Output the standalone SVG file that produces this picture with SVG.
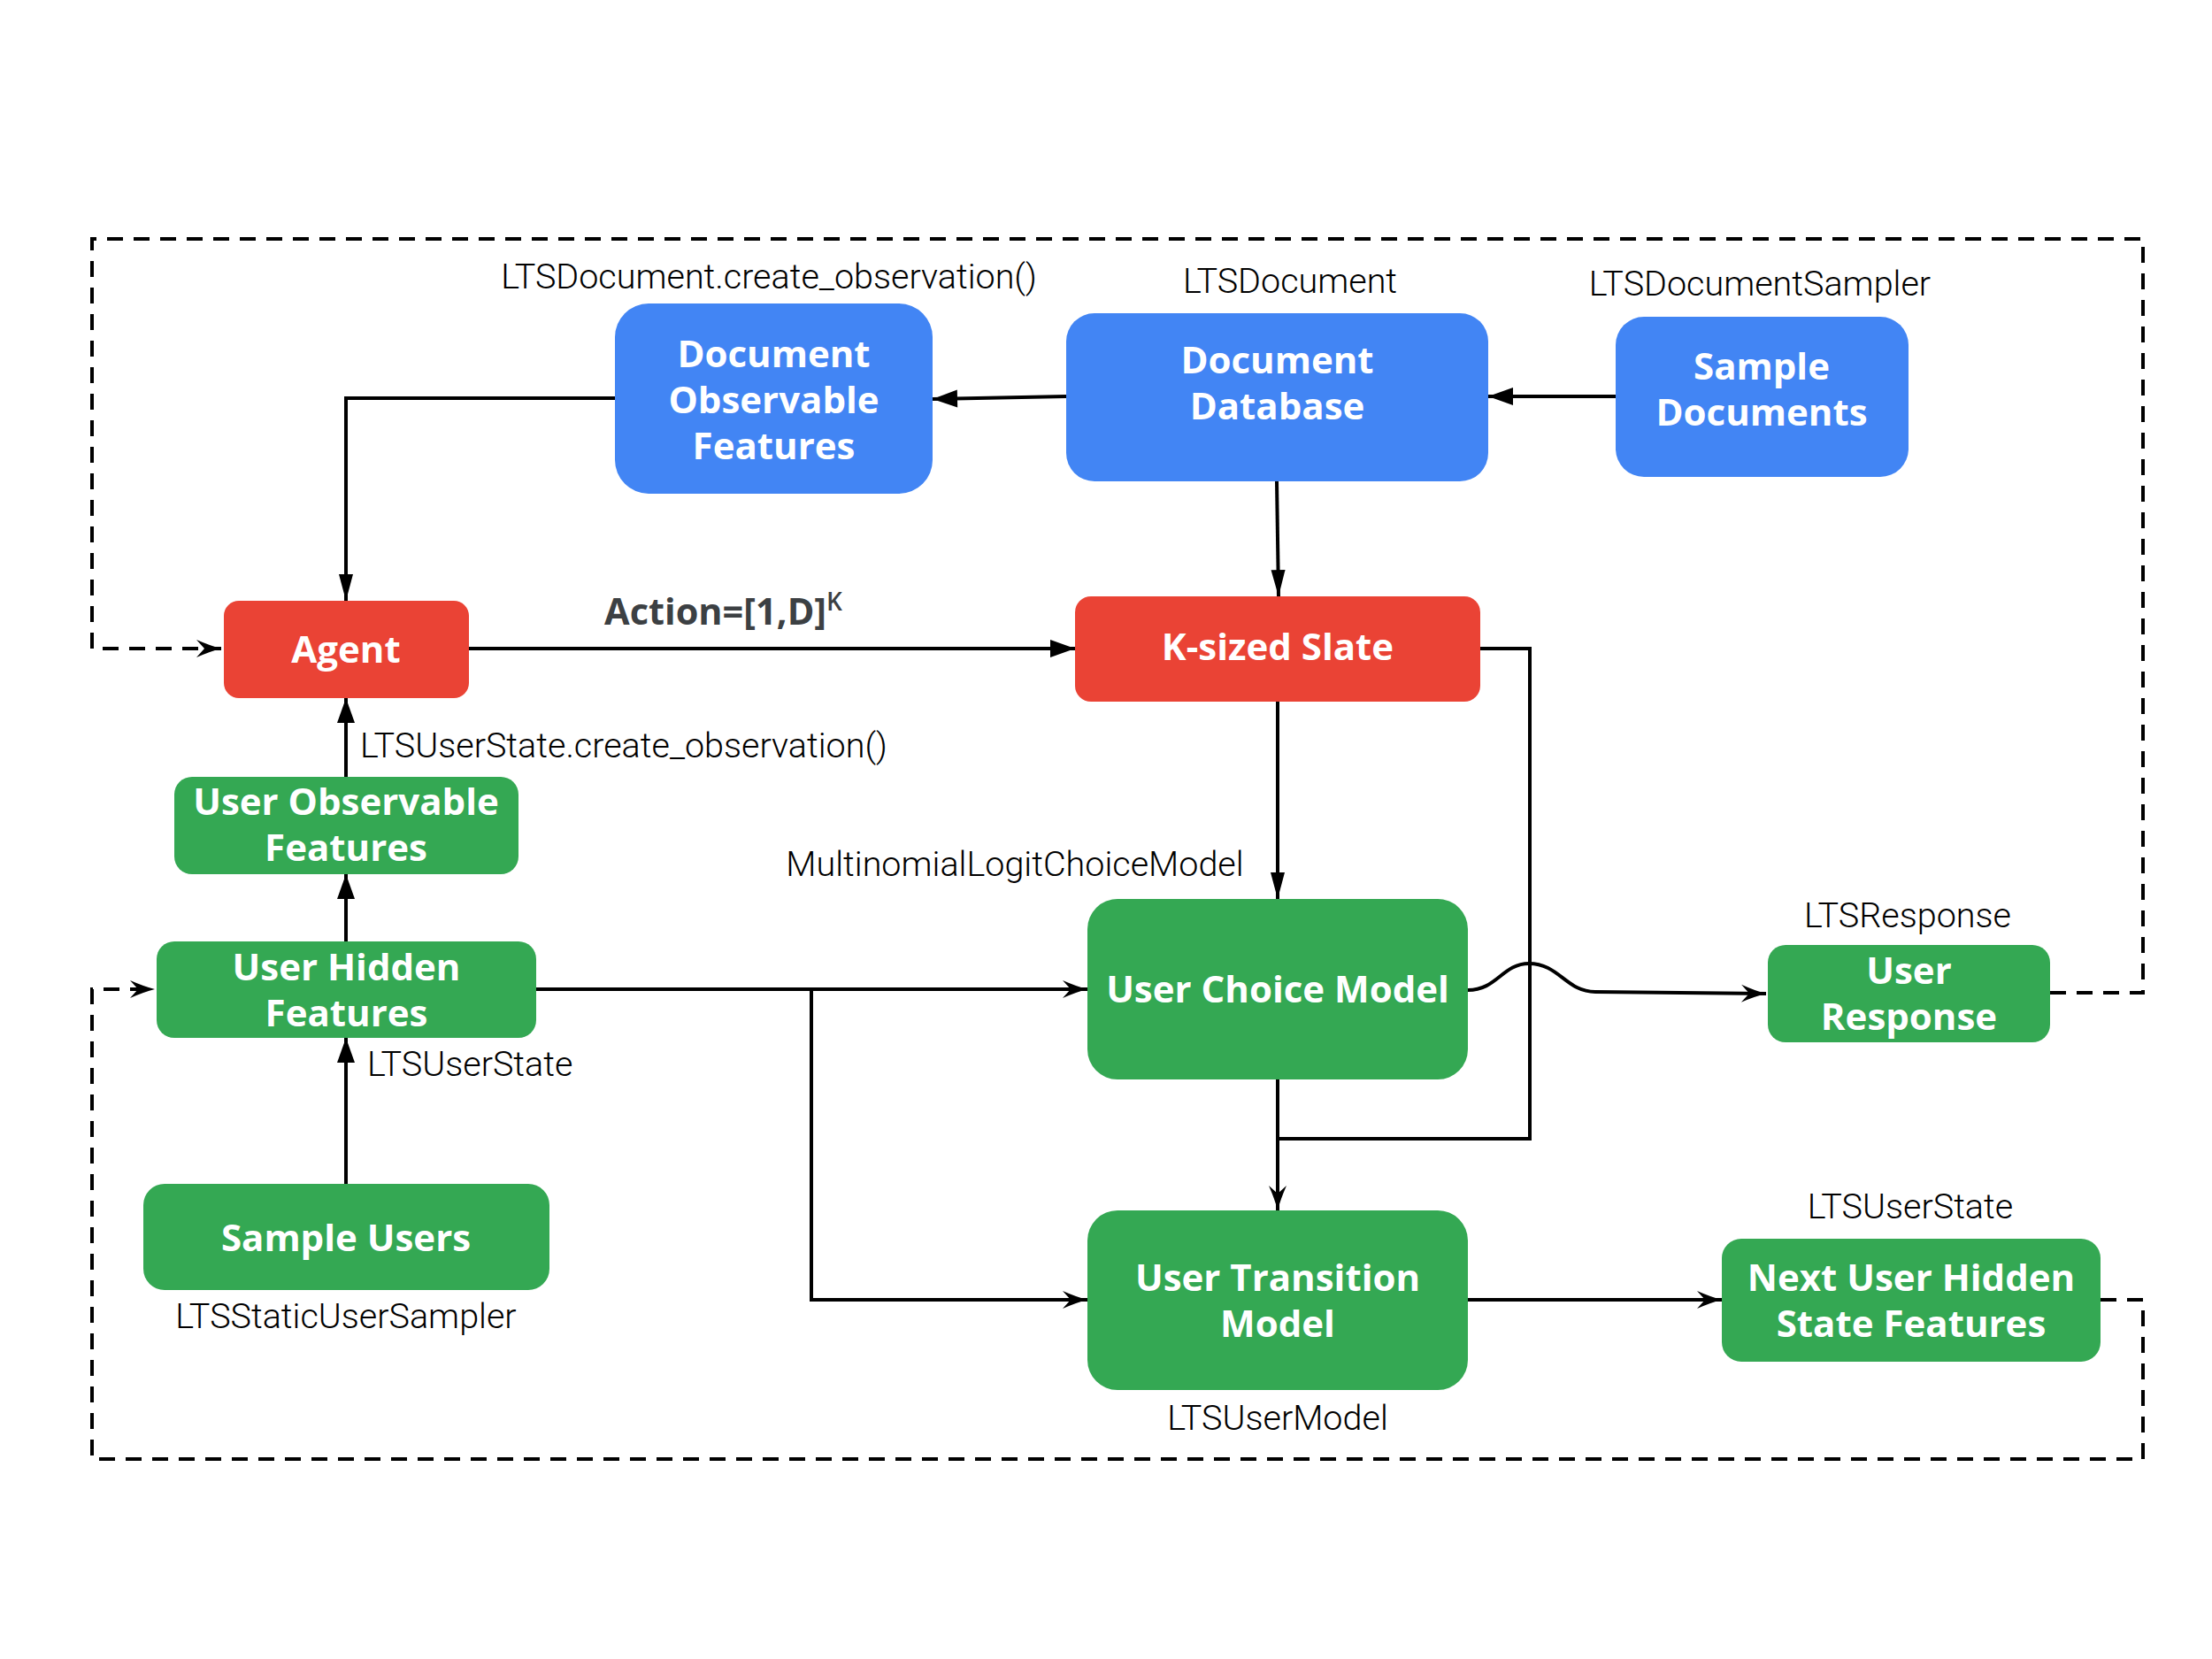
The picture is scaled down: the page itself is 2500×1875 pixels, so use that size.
<svg xmlns="http://www.w3.org/2000/svg" width="2500" height="1875" viewBox="0 0 2500 1875">
<style>
.blue{fill:#4285F4}
.red{fill:#EA4335}
.green{fill:#34A853}
.nt{font-family:"Open Sans","Liberation Sans",sans-serif;font-weight:700;font-size:42px;fill:#fff;text-anchor:middle}
.an{font-family:Roboto,"Liberation Sans",sans-serif;font-weight:300;font-size:39.5px;fill:#000}
.mid{text-anchor:middle}
.ln{fill:none;stroke:#000;stroke-width:4}
.dash{fill:none;stroke:#000;stroke-width:4;stroke-dasharray:18 12}
</style>
<defs>
<marker id="tri" markerUnits="userSpaceOnUse" markerWidth="28" markerHeight="20" refX="28" refY="10" orient="auto" overflow="visible">
<path d="M0,0 L28,10 L0,20 z" fill="#000"/>
</marker>
<marker id="nar" markerUnits="userSpaceOnUse" markerWidth="30" markerHeight="16" refX="30" refY="8" orient="auto" overflow="visible">
<path d="M0,0 L30,8 L0,16 z" fill="#000"/>
</marker>
<marker id="notch" markerUnits="userSpaceOnUse" markerWidth="28" markerHeight="20" refX="28" refY="10" orient="auto" overflow="visible">
<path d="M0,0 Q16,7 28,10 Q16,13 0,20 L9,10 z" fill="#000"/>
</marker>
</defs>
<rect width="2500" height="1875" fill="#fff"/>

<g id="connectors">
<path class="dash" d="M2317,1122 L2422,1122 L2422,270 L104,270 L104,733 L250,733" marker-end="url(#notch)"/>
<path class="dash" d="M2374,1469 L2422,1469 L2422,1649 L104,1649 L104,1118 L175,1118" marker-end="url(#notch)"/>
<path class="ln" d="M695,450 L391,450 L391,679" marker-end="url(#nar)"/>
<path class="ln" d="M1205,448 L1054,451" marker-end="url(#tri)"/>
<path class="ln" d="M1826,448 L1682,448" marker-end="url(#tri)"/>
<path class="ln" d="M1443,544 L1445,674" marker-end="url(#nar)"/>
<path class="ln" d="M530,733 L1215,733" marker-end="url(#tri)"/>
<path class="ln" d="M391,878 L391,789" marker-end="url(#tri)"/>
<path class="ln" d="M391,1064 L391,988" marker-end="url(#tri)"/>
<path class="ln" d="M391,1338 L391,1173" marker-end="url(#tri)"/>
<path class="ln" d="M1444,793 L1444,1016" marker-end="url(#nar)"/>
<path class="ln" d="M606,1118 L1229,1118" marker-end="url(#notch)"/>
<path class="ln" d="M917,1118 L917,1469 L1229,1469" marker-end="url(#notch)"/>
<path class="ln" d="M1673,733 L1729,733 L1729,1287 L1444,1287"/>
<path class="ln" d="M1444,1220 L1444,1368" marker-end="url(#notch)"/>
<path class="ln" d="M1659,1119 C1692,1119 1698,1089 1728,1089 C1762,1089 1770,1121 1803,1121 L1996,1123" marker-end="url(#notch)"/>
<path class="ln" d="M1659,1469 L1946,1469" marker-end="url(#notch)"/>
<text x="683" y="706" style="font-family:'Open Sans','Liberation Sans',sans-serif;font-weight:700;font-size:41.5px;fill:#3C4043">Action=[1,D]<tspan dy="-16" style="font-size:28px;font-weight:600">K</tspan></text>
</g>

<g id="doc-observable-features">
<rect class="blue" x="695" y="343" width="359" height="215" rx="38"/>
<text class="nt" x="874.5" y="415">Document</text>
<text class="nt" x="874.5" y="467">Observable</text>
<text class="nt" x="874.5" y="519">Features</text>
<text class="an mid" x="869" y="326">LTSDocument.create_observation()</text>
</g>

<g id="document-database">
<rect class="blue" x="1205" y="354" width="477" height="190" rx="32"/>
<text class="nt" x="1443.5" y="422">Document</text>
<text class="nt" x="1443.5" y="474">Database</text>
<text class="an mid" x="1458" y="331">LTSDocument</text>
</g>

<g id="sample-documents">
<rect class="blue" x="1826" y="358" width="331" height="181" rx="32"/>
<text class="nt" x="1991" y="429">Sample</text>
<text class="nt" x="1991" y="481">Documents</text>
<text class="an mid" x="1989" y="334">LTSDocumentSampler</text>
</g>

<g id="agent">
<rect class="red" x="253" y="679" width="277" height="110" rx="17"/>
<text class="nt" x="391" y="749">Agent</text>
</g>

<g id="k-sized-slate">
<rect class="red" x="1215" y="674" width="458" height="119" rx="18"/>
<text class="nt" x="1444" y="746">K-sized Slate</text>
</g>

<g id="user-observable-features">
<rect class="green" x="197" y="878" width="389" height="110" rx="20"/>
<text class="nt" x="391" y="921">User Observable</text>
<text class="nt" x="391" y="973">Features</text>
<text class="an" x="407" y="856">LTSUserState.create_observation()</text>
</g>

<g id="user-hidden-features">
<rect class="green" x="177" y="1064" width="429" height="109" rx="20"/>
<text class="nt" x="391.5" y="1108">User Hidden</text>
<text class="nt" x="391.5" y="1160">Features</text>
<text class="an" x="415" y="1216">LTSUserState</text>
</g>

<g id="sample-users">
<rect class="green" x="162" y="1338" width="459" height="120" rx="24"/>
<text class="nt" x="391" y="1414">Sample Users</text>
<text class="an mid" x="391" y="1501">LTSStaticUserSampler</text>
</g>

<g id="user-choice-model">
<rect class="green" x="1229" y="1016" width="430" height="204" rx="34"/>
<text class="nt" x="1444" y="1133">User Choice Model</text>
<text class="an mid" x="1147" y="990">MultinomialLogitChoiceModel</text>
</g>

<g id="user-transition-model">
<rect class="green" x="1229" y="1368" width="430" height="203" rx="34"/>
<text class="nt" x="1444" y="1459">User Transition</text>
<text class="nt" x="1444" y="1511">Model</text>
<text class="an mid" x="1444" y="1616">LTSUserModel</text>
</g>

<g id="user-response">
<rect class="green" x="1998" y="1068" width="319" height="110" rx="20"/>
<text class="nt" x="2157.5" y="1112">User</text>
<text class="nt" x="2157.5" y="1164">Response</text>
<text class="an mid" x="2156" y="1048">LTSResponse</text>
</g>

<g id="next-user-hidden-state-features">
<rect class="green" x="1946" y="1400" width="428" height="139" rx="22"/>
<text class="nt" x="2160" y="1459">Next User Hidden</text>
<text class="nt" x="2160" y="1511">State Features</text>
<text class="an mid" x="2159" y="1377">LTSUserState</text>
</g>
</svg>
